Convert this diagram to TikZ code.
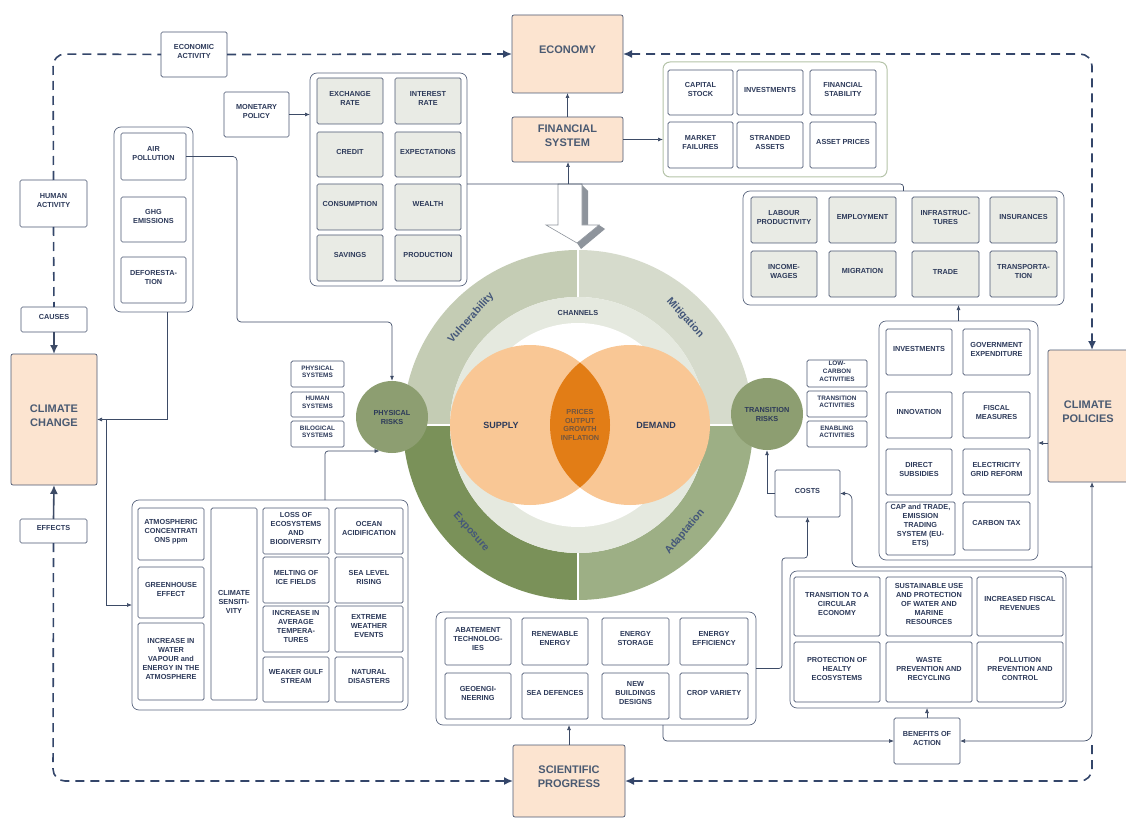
\documentclass[tikz,border=0pt]{standalone}
\usepackage{fontspec}
\setmainfont{Liberation Sans}
\usetikzlibrary{arrows.meta,fit,calc}
\definecolor{txt}{HTML}{2D3A5A}
\definecolor{bigtxt}{HTML}{4A5A72}
\definecolor{bord}{HTML}{4B5772}
\definecolor{grpc}{HTML}{5C6780}
\definecolor{fingrpc}{HTML}{B4C3A8}
\definecolor{peach}{HTML}{FCE4D0}
\definecolor{graybox}{HTML}{E9EBE5}
\definecolor{linec}{HTML}{3D4B66}
\definecolor{dashc}{HTML}{34466A}
\definecolor{vulc}{HTML}{C4CCB4}
\definecolor{mitc}{HTML}{D6DBCC}
\definecolor{expc}{HTML}{7A9159}
\definecolor{adac}{HTML}{9DAF85}
\definecolor{chanc}{HTML}{E5E9DF}
\definecolor{riskc}{HTML}{8D9E71}
\definecolor{orl}{HTML}{F9C795}
\definecolor{ord}{HTML}{E27D16}
\definecolor{lenstxt}{HTML}{74563F}
\definecolor{ringtxt}{HTML}{44577A}
\definecolor{shadec}{HTML}{8E949C}
\newcommand\mybox[5][wbox]{\node[#1, fit={(#3)(#4)}] (#2) {#5};}
\begin{document}
\begin{tikzpicture}[x=1pt,y=-1pt,
  lbl/.style={font=\bfseries\fontsize{7.3}{9}\selectfont, text=txt, align=center, inner sep=0pt, outer sep=0pt},
  wbox/.style={lbl, draw=bord, line width=0.7pt, rounded corners=1.5pt, fill=white},
  gbox/.style={wbox, fill=graybox},
  sbox/.style={wbox, font=\bfseries\fontsize{6.4}{7.6}\selectfont},
  grp/.style={draw=grpc, line width=0.7pt, rounded corners=7pt, inner sep=0pt, outer sep=0pt},
  fgrp/.style={grp, draw=fingrpc, line width=1pt},
  big/.style={draw=bord, line width=0.7pt, fill=peach, font=\bfseries\fontsize{11}{14}\selectfont, text=bigtxt, align=center, inner sep=0pt, outer sep=0pt, rounded corners=2pt},
  conn/.style={draw=linec, line width=0.7pt, -{Latex[length=5pt,width=4pt]}},
  plain/.style={draw=linec, line width=0.7pt},
  bigarr/.style={draw=linec, line width=1.6pt, -{Latex[length=9pt,width=8pt]}},
  dashln/.style={draw=dashc, line width=1.6pt, dash pattern=on 9pt off 6pt},
  dtip/.style={-{Latex[length=9pt,width=8pt]}},
  risk/.style={circle, fill=riskc, minimum size=72pt, inner sep=0pt, font=\bfseries\fontsize{7.3}{9}\selectfont, text=txt, align=center},
  ringlbl/.style={font=\bfseries\fontsize{10.5}{12}\selectfont, text=ringtxt, inner sep=0pt}
]
\useasboundingbox (0,0) rectangle (1126,818);

% ---------- central ring ----------
\begin{scope}
  \clip (578,425) rectangle (378,225);
  \fill[vulc, even odd rule] (578,425) circle[radius=175pt] (578,425) circle[radius=128pt];
\end{scope}
\begin{scope}
  \clip (578,425) rectangle (778,225);
  \fill[mitc, even odd rule] (578,425) circle[radius=175pt] (578,425) circle[radius=128pt];
\end{scope}
\begin{scope}
  \clip (578,425) rectangle (378,625);
  \fill[expc, even odd rule] (578,425) circle[radius=175pt] (578,425) circle[radius=128pt];
\end{scope}
\begin{scope}
  \clip (578,425) rectangle (778,625);
  \fill[adac, even odd rule] (578,425) circle[radius=175pt] (578,425) circle[radius=128pt];
\end{scope}
\draw[white, line width=2pt] (578,248) -- (578,602) (401,425) -- (755,425);
\fill[chanc] (578,425) circle[radius=128pt];
\fill[white] (578,425) circle[radius=102pt];
\fill[orl] (530,425) circle[radius=80pt];
\fill[orl] (630,425) circle[radius=80pt];
\begin{scope}
  \clip (530,425) circle[radius=80pt];
  \fill[ord] (630,425) circle[radius=80pt];
\end{scope}
\node[lbl] (channels) at (578,313) {CHANNELS};
\node[lbl, font=\bfseries\fontsize{9}{11}\selectfont] (supply) at (501,425) {SUPPLY};
\node[lbl, font=\bfseries\fontsize{9}{11}\selectfont] (demand) at (656,425) {DEMAND};
\node[lbl, text=lenstxt, font=\bfseries\fontsize{7.3}{8.6}\selectfont] (lens) at (580,425) {PRICES\\OUTPUT\\GROWTH\\INFLATION};
\node[ringlbl, rotate=48] (vul) at (471,318) {Vulnerability};
\node[ringlbl, rotate=-48] (mit) at (685,318) {Mitigation};
\node[ringlbl, rotate=-48] (expo) at (471,532) {Exposure};
\node[ringlbl, rotate=50] (adap) at (685,532) {Adaptation};

\node[risk] (physrisk) at (392,417) {PHYSICAL\\RISKS};
\node[risk] (transrisk) at (767,414) {TRANSITION\\RISKS};

% ---------- big 3D arrow ----------
\fill[shadec] (582,185) -- (588,191) -- (588,226) -- (582,226) -- cycle;
\fill[shadec] (599,225) -- (605,229) -- (581,249) -- (577,243) -- cycle;
\filldraw[fill=white, draw=shadec, line width=0.6pt] (558,184) -- (582,184) -- (582,225) -- (599,225) -- (577,243) -- (546,225) -- (558,225) -- cycle;
\coordinate (bigtop) at (568,184);

% ---------- top ----------
\mybox{ecoact}{161,32}{227,77}{ECONOMIC\\ACTIVITY}
\mybox[big]{economy}{512,15}{623,93}{ECONOMY}
\mybox[big]{finsys}{512,117}{623,162}{FINANCIAL\\SYSTEM}
\mybox{monpol}{224,92}{289,137}{MONETARY\\POLICY}

\mybox[grp]{mongrp}{310,73}{467,286}{}
\mybox[gbox]{exr}{317,78}{383,124}{EXCHANGE\\RATE}
\mybox[gbox]{intr}{395,78}{461,124}{INTEREST\\RATE}
\mybox[gbox]{credit}{317,132}{383,177}{CREDIT}
\mybox[gbox]{expect}{395,132}{461,177}{EXPECTATIONS}
\mybox[gbox]{consum}{317,184}{383,230}{CONSUMPTION}
\mybox[gbox]{wealth}{395,184}{461,230}{WEALTH}
\mybox[gbox]{savings}{317,235}{383,281}{SAVINGS}
\mybox[gbox]{prod}{395,235}{461,281}{PRODUCTION}

\mybox[fgrp]{fingrp}{663,62}{887,177}{}
\mybox{capst}{668,70}{733,115}{CAPITAL\\STOCK}
\mybox{invest}{737,70}{803,115}{INVESTMENTS}
\mybox{finstab}{810,70}{876,115}{FINANCIAL\\STABILITY}
\mybox{mktf}{668,122}{733,168}{MARKET\\FAILURES}
\mybox{strand}{737,122}{803,168}{STRANDED\\ASSETS}
\mybox{assetp}{810,122}{876,168}{ASSET PRICES}

\mybox[grp]{empgrp}{743,191}{1064,305}{}
\mybox[gbox]{labprod}{751,197}{817,243}{LABOUR\\PRODUCTIVITY}
\mybox[gbox]{employ}{829,197}{896,243}{EMPLOYMENT}
\mybox[gbox]{infra}{912,197}{979,243}{INFRASTRUC-\\TURES}
\mybox[gbox]{insur}{990,197}{1057,243}{INSURANCES}
\mybox[gbox]{income}{751,251}{817,297}{INCOME-\\WAGES}
\mybox[gbox]{migr}{829,251}{896,297}{MIGRATION}
\mybox[gbox]{trade}{912,251}{979,297}{TRADE}
\mybox[gbox]{transp}{990,251}{1057,297}{TRANSPORTA-\\TION}

% ---------- left ----------
\mybox{humact}{20,180}{87,227}{HUMAN\\ACTIVITY}
\mybox{causes}{21,307}{87,332}{CAUSES}
\mybox[big]{climchg}{11,354}{97,485}{CLIMATE\\CHANGE}
\mybox{effects}{20,519}{87,543}{EFFECTS}

\mybox[grp]{polgrp}{114,127}{193,312}{}
\mybox{airpol}{121,133}{186,180}{AIR\\POLLUTION}
\mybox{ghg}{121,197}{186,242}{GHG\\EMISSIONS}
\mybox{defor}{121,257}{186,303}{DEFORESTA-\\TION}

\mybox[sbox]{physys}{291,361}{344,387}{PHYSICAL\\SYSTEMS}
\mybox[sbox]{humsys}{291,392}{344,417}{HUMAN\\SYSTEMS}
\mybox[sbox]{biosys}{291,421}{344,447}{BILOGICAL\\SYSTEMS}

\mybox[grp]{climgrp}{132,500}{408,710}{}
\mybox{atmo}{138,508}{204,560}{ATMOSPHERIC\\CONCENTRATI\\ONS ppm}
\mybox{greenh}{138,567}{204,618}{GREENHOUSE\\EFFECT}
\mybox{water}{138,623}{204,700}{INCREASE IN\\WATER\\VAPOUR and\\ENERGY IN THE\\ATMOSPHERE}
\mybox{sensit}{211,508}{257,700}{CLIMATE\\SENSITI-\\VITY}
\mybox{loss}{263,508}{329,554}{LOSS OF\\ECOSYSTEMS\\AND\\BIODIVERSITY}
\mybox{melt}{263,557}{329,603}{MELTING OF\\ICE FIELDS}
\mybox{avgtemp}{263,606}{329,652}{INCREASE IN\\AVERAGE\\TEMPERA-\\TURES}
\mybox{gulf}{263,657}{329,702}{WEAKER GULF\\STREAM}
\mybox{ocean}{335,508}{403,554}{OCEAN\\ACIDIFICATION}
\mybox{sealev}{335,557}{403,603}{SEA LEVEL\\RISING}
\mybox{extreme}{335,606}{403,652}{EXTREME\\WEATHER\\EVENTS}
\mybox{natdis}{335,657}{403,702}{NATURAL\\DISASTERS}

% ---------- right ----------
\mybox[sbox]{lowc}{807,360}{867,387}{LOW-\\CARBON\\ACTIVITIES}
\mybox[sbox]{transact}{807,391}{867,417}{TRANSITION\\ACTIVITIES}
\mybox[sbox]{enabl}{807,421}{867,447}{ENABLING\\ACTIVITIES}
\mybox{costs}{775,470}{840,517}{COSTS}

\mybox[big]{climpol}{1048,350}{1128,482}{CLIMATE\\POLICIES}
\mybox[grp]{polgrp2}{879,321}{1038,560}{}
\mybox{pinv}{886,329}{952,375}{INVESTMENTS}
\mybox{gov}{963,329}{1030,375}{GOVERNMENT\\EXPENDITURE}
\mybox{innov}{886,392}{952,438}{INNOVATION}
\mybox{fiscal}{963,392}{1030,438}{FISCAL\\MEASURES}
\mybox{subs}{886,449}{952,495}{DIRECT\\SUBSIDIES}
\mybox{grid}{963,449}{1030,495}{ELECTRICITY\\GRID REFORM}
\mybox{cap}{886,502}{955,555}{CAP and TRADE,\\EMISSION\\TRADING\\SYSTEM (EU-\\ETS)}
\mybox{ctax}{963,502}{1030,550}{CARBON TAX}

% ---------- bottom ----------
\mybox[grp]{bengrp}{790,571}{1066,708}{}
\mybox{circ}{794,577}{880,636}{TRANSITION TO A\\CIRCULAR\\ECONOMY}
\mybox{sust}{886,577}{972,636}{SUSTAINABLE USE\\AND PROTECTION\\OF WATER AND\\MARINE\\RESOURCES}
\mybox{fisrev}{977,577}{1063,636}{INCREASED FISCAL\\REVENUES}
\mybox{healty}{794,642}{880,702}{PROTECTION OF\\HEALTY\\ECOSYSTEMS}
\mybox{waste}{886,642}{972,702}{WASTE\\PREVENTION AND\\RECYCLING}
\mybox{pollprev}{977,642}{1063,702}{POLLUTION\\PREVENTION AND\\CONTROL}
\mybox{benefit}{894,718}{960,764}{BENEFITS OF\\ACTION}

\mybox[grp]{abgrp}{436,612}{756,725}{}
\mybox{abate}{445,618}{511,665}{ABATEMENT\\TECHNOLOG-\\IES}
\mybox{renew}{522,618}{588,665}{RENEWABLE\\ENERGY}
\mybox{storage}{602,618}{669,665}{ENERGY\\STORAGE}
\mybox{effic}{680,618}{748,665}{ENERGY\\EFFICIENCY}
\mybox{geo}{445,673}{511,719}{GEOENGI-\\NEERING}
\mybox{seadef}{522,673}{588,719}{SEA DEFENCES}
\mybox{newb}{602,673}{669,719}{NEW\\BUILDINGS\\DESIGNS}
\mybox{crop}{680,673}{748,719}{CROP VARIETY}
\mybox[big]{scient}{513,745}{625,817}{SCIENTIFIC\\PROGRESS}

% ---------- dashed loop ----------
\draw[dashln, rounded corners=12pt] (humact.north) -- (53,54) -- (ecoact.west);
\draw[dashln, dtip] (ecoact.east) -- (economy.west);
\draw[dashln] (humact.south) -- (causes.north);
\draw[dashln, {Latex[length=9pt,width=8pt]}-{Latex[length=9pt,width=8pt]}, rounded corners=12pt] (economy.east) -- (1092,54) -- (1092,350);
\draw[dashln, dtip, rounded corners=12pt] (effects.south) -- (53,781) -- (scient.west);
\draw[dashln, dtip, rounded corners=12pt] (1092,745) -- (1092,781) -- (scient.east);
\draw[bigarr] (causes.south) -- (climchg.north);
\draw[bigarr] (effects.north) -- (climchg.south);

% ---------- solid connectors ----------
\draw[conn] (finsys.north) -- (economy.south);
\draw[conn] (finsys.east) -- (finsys.east -| fingrp.west);
\draw[conn] (bigtop) -- (bigtop |- finsys.south);
\draw[plain, rounded corners=3pt] (mongrp.east |- bigtop) -| (empgrp.north);
\draw[conn] (monpol.east) -- (monpol.east -| mongrp.west);
\draw[conn, rounded corners=4pt] (airpol.east) -| (237,322) -| (physrisk.north);
\draw[conn] ([xshift=13.5pt]polgrp.south) |- (climchg.east);
\draw[conn] ([xshift=9pt]climchg.east) |- (climgrp.west);
\draw[conn, rounded corners=3pt] ([xshift=55pt]climgrp.north) |- (physrisk.250);
\draw[conn] (costs.west) -| (transrisk.south);
\draw[conn, rounded corners=6pt] (1092,567) -- (852,567) -- (852,493.5) -- (costs.east);
\draw[conn, {Latex[length=5pt,width=4pt]}-{Latex[length=5pt,width=4pt]}, rounded corners=8pt] (climpol.south -| 1092,0) -- (1092,741) -- (benefit.east);
\draw[conn] ([yshift=-27pt]climpol.west) -- ([yshift=-27pt]climpol.west -| polgrp2.east);
\draw[conn] (polgrp2.north) -- (polgrp2.north |- empgrp.south);
\draw[conn, rounded corners=3pt] (abgrp.east) -- (782,668.5) -- (782,558) -- (costs.south |- 0,558) -- (costs.south);
\draw[conn, rounded corners=4pt] ([xshift=67pt]abgrp.south) |- (benefit.west);
\draw[conn] (benefit.north) -- (benefit.north |- bengrp.south);
\draw[conn] (scient.north) -- (scient.north |- abgrp.south);
\end{tikzpicture}
\end{document}
